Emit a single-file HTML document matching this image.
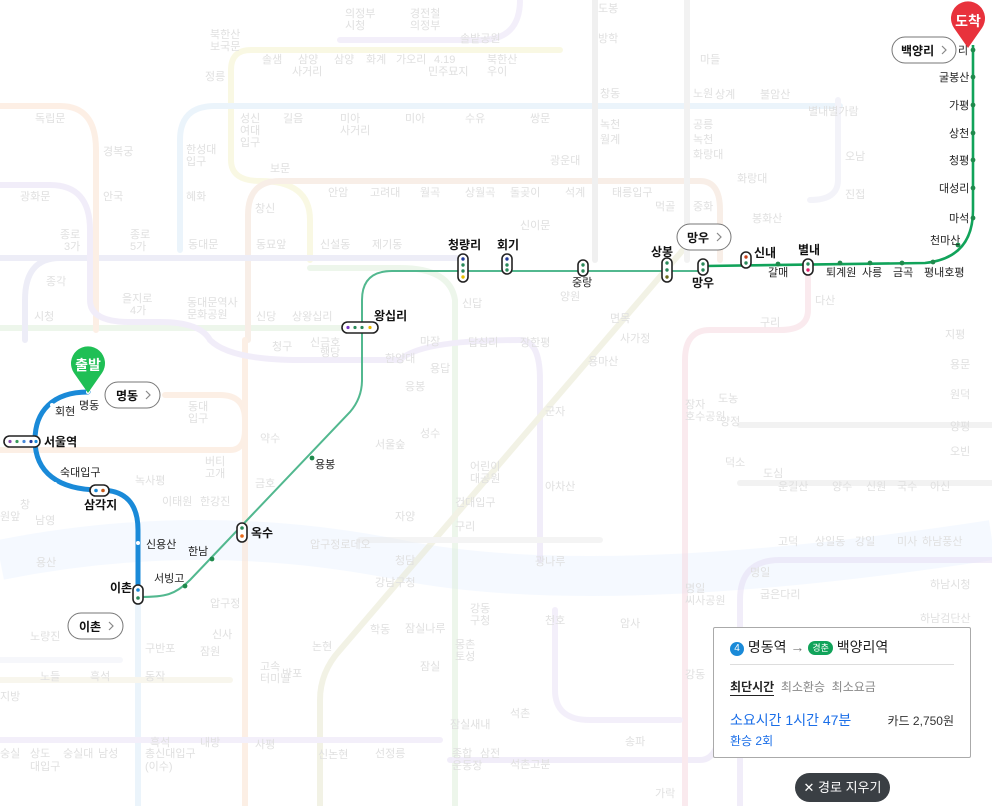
<!DOCTYPE html>
<html><head><meta charset="utf-8"><style>
html,body{margin:0;padding:0;background:#fff;}
body{width:992px;height:806px;overflow:hidden;position:relative;font-family:"Liberation Sans","Noto Sans CJK KR",sans-serif;}
svg text{font-family:"Liberation Sans","Noto Sans CJK KR",sans-serif;}
.bg{fill:#e0e0e0;font-size:11px;}
.lb{fill:#222;font-size:11px;}
.lbb{fill:#111;font-size:12px;font-weight:bold;}
</style></head><body>
<svg width="992" height="806" viewBox="0 0 992 806" xmlns="http://www.w3.org/2000/svg" style="position:absolute;left:0;top:0">
<g fill="none" stroke="#eef5ff" stroke-width="40" opacity="0.6"><path d="M0,560 Q200,520 400,560 T992,540"/></g>
<g fill="none" stroke-width="6" stroke-linecap="round" opacity="0.5">
 <path d="M231,110 L231,70 Q231,50 251,50 L560,50" stroke="#f4f3c8"/>
 <path d="M231,110 L231,160 Q231,181 260,181 Q310,181 310,220 L310,260" stroke="#f4f3c8"/>
 <path d="M180,250 L180,140 Q180,106 215,106 L840,106" stroke="#d8eaf8"/>
 <path d="M138,600 L138,806" stroke="#d8eaf8"/>
 <path d="M310,268 L400,268 Q450,268 455,300 L455,806" stroke="#dcefd8"/>
 <path d="M0,328 L350,328" stroke="#dcefd8"/>
 <path d="M248,340 L248,215 Q248,181 280,181 L700,181 Q720,181 720,210 L720,260" stroke="#f3dfd0"/>
 <path d="M0,258 L460,258" stroke="#dcdcf0"/>
 <path d="M25,340 L25,300 Q25,258 60,258" stroke="#dcdcf0"/>
 <path d="M0,106 L60,106 Q96,106 96,150 L96,330" stroke="#fbe0cc"/>
 <path d="M245,340 L245,806" stroke="#fbe0cc"/>
 <path d="M0,450 L230,450 Q245,450 245,430 L245,420 Q245,395 220,395 L165,395" stroke="#fbe0cc"/>
 <path d="M0,185 L50,185 Q90,185 90,230 L90,300 Q90,322 130,322 L160,322 Q200,322 210,340 Q230,360 300,360 L400,360 Q420,340 520,340 Q540,340 540,380 L540,560" stroke="#e5dcf4"/>
 <path d="M520,0 Q520,40 480,40 L340,40" stroke="#e8e0f6"/>
 <path d="M450,760 L700,760 Q720,760 720,720 L720,690" stroke="#e5dcf4"/>
 <path d="M740,806 L740,600 Q740,560 780,560 L992,560" stroke="#e5dcf4"/>
 <path d="M700,230 L340,650 Q320,672 320,700 L320,806" stroke="#e6e6cc"/>
 <path d="M808,275 L808,310 Q808,330 780,330 L710,330 Q685,330 685,360 L685,806" stroke="#f6d6de"/>
 <path d="M595,0 L595,260" stroke="#e3e3e3"/>
 <path d="M687,0 L687,260" stroke="#e7e7e7"/>
 <path d="M838,100 L838,180 Q838,200 810,200" stroke="#e8e8f4"/>
 <path d="M740,425 L992,425" stroke="#e6e6e6"/>
 <path d="M740,483 L992,483" stroke="#e6e6e6"/>
 <path d="M555,610 L555,690 Q555,720 590,720 L680,720" stroke="#e8e0f6"/>
 <path d="M0,660 L120,660" stroke="#eef0f8"/>
 <path d="M0,740 L440,740" stroke="#e8e0f6"/>
 <path d="M0,680 L230,680" stroke="#f2eedc"/>
 <path d="M360,540 L600,540" stroke="#eaeaea"/>
</g>
<g class="bg">
<text x="345" y="17">의정부</text><text x="345" y="29">시청</text><text x="410" y="17">경전철</text><text x="410" y="29">의정부</text>
<text x="210" y="38">북한산</text><text x="210" y="50">보국문</text><text x="460" y="42">솔밭공원</text>
<text x="262" y="63">솔샘</text><text x="298" y="63">삼양</text><text x="334" y="63">삼양</text><text x="366" y="63">화계</text><text x="396" y="63">가오리</text><text x="434" y="63">4.19</text><text x="292" y="75">사거리</text><text x="428" y="75">민주묘지</text><text x="487" y="63">북한산</text><text x="487" y="75">우이</text>
<text x="205" y="80">정릉</text><text x="598" y="42">방학</text><text x="598" y="12">도봉</text><text x="700" y="63">마들</text>
<text x="35" y="122">독립문</text><text x="103" y="155">경복궁</text><text x="20" y="200">광화문</text><text x="103" y="200">안국</text>
<text x="240" y="122">성신</text><text x="240" y="134">여대</text><text x="240" y="146">입구</text><text x="283" y="122">길음</text><text x="340" y="122">미아</text><text x="340" y="134">사거리</text><text x="405" y="122">미아</text><text x="465" y="122">수유</text><text x="530" y="122">쌍문</text>
<text x="186" y="153">한성대</text><text x="186" y="165">입구</text><text x="186" y="200">혜화</text><text x="270" y="172">보문</text><text x="255" y="212">창신</text>
<text x="328" y="196">안암</text><text x="370" y="196">고려대</text><text x="420" y="196">월곡</text><text x="465" y="196">상월곡</text><text x="510" y="196">돌곶이</text><text x="565" y="196">석계</text><text x="612" y="196">태릉입구</text>
<text x="60" y="238">종로</text><text x="64" y="250">3가</text><text x="130" y="238">종로</text><text x="130" y="250">5가</text><text x="188" y="248">동대문</text><text x="256" y="248">동묘앞</text><text x="320" y="248">신설동</text><text x="372" y="248">제기동</text><text x="520" y="229">신이문</text><text x="550" y="164">광운대</text>
<text x="46" y="285">종각</text><text x="122" y="302">을지로</text><text x="130" y="314">4가</text><text x="187" y="306">동대문역사</text><text x="187" y="318">문화공원</text><text x="256" y="320">신당</text><text x="292" y="320">상왕십리</text><text x="34" y="320">시청</text>
<text x="462" y="307">신답</text><text x="560" y="300">양원</text><text x="610" y="322">면목</text><text x="620" y="342">사가정</text><text x="468" y="346">답십리</text><text x="520" y="346">장한평</text><text x="420" y="345">마장</text><text x="385" y="362">한양대</text>
<text x="588" y="365">용마산</text><text x="760" y="326">구리</text><text x="815" y="304">다산</text><text x="945" y="338">지평</text><text x="950" y="368">용문</text><text x="950" y="398">원덕</text><text x="950" y="430">양평</text><text x="950" y="455">오빈</text>
<text x="272" y="350">청구</text><text x="310" y="346">신금호</text><text x="320" y="356">행당</text><text x="188" y="410">동대</text><text x="188" y="422">입구</text><text x="260" y="442">약수</text><text x="205" y="465">버티</text><text x="205" y="477">고개</text><text x="255" y="487">금호</text><text x="135" y="484">녹사평</text><text x="162" y="505">이태원</text><text x="200" y="505">한강진</text>
<text x="420" y="437">성수</text><text x="375" y="448">서울숲</text><text x="405" y="390">응봉</text><text x="430" y="372">용답</text><text x="545" y="415">군자</text><text x="470" y="470">어린이</text><text x="470" y="482">대공원</text><text x="545" y="490">아차산</text><text x="455" y="506">건대입구</text><text x="455" y="530">구리</text><text x="395" y="520">자양</text>
<text x="310" y="548">압구정로데오</text><text x="395" y="564">청담</text><text x="375" y="586">강남구청</text><text x="535" y="565">광나루</text><text x="210" y="607">압구정</text><text x="212" y="638">신사</text><text x="200" y="655">잠원</text><text x="312" y="650">논현</text><text x="370" y="633">학동</text><text x="405" y="632">잠실나루</text><text x="470" y="612">강동</text><text x="470" y="624">구청</text><text x="545" y="624">천호</text><text x="620" y="627">암사</text><text x="685" y="592">명일</text><text x="685" y="604">씨사공원</text>
<text x="20" y="508">창</text><text x="0" y="520">원앞</text><text x="35" y="524">남영</text><text x="36" y="566">용산</text><text x="30" y="640">노량진</text><text x="145" y="652">구반포</text><text x="145" y="680">동작</text><text x="260" y="670">고속</text><text x="260" y="682">터미널</text><text x="282" y="677">반포</text><text x="255" y="748">사평</text><text x="318" y="758">신논현</text><text x="375" y="757">선정릉</text><text x="420" y="670">잠실</text><text x="455" y="648">몽촌</text><text x="455" y="660">토성</text><text x="510" y="717">석촌</text><text x="450" y="728">잠실새내</text><text x="452" y="757">종합</text><text x="452" y="769">운동장</text><text x="480" y="757">삼전</text><text x="510" y="768">석촌고분</text><text x="625" y="745">송파</text><text x="655" y="797">가락</text><text x="685" y="678">강동</text>
<text x="150" y="746">흑석</text><text x="145" y="757">총신대입구</text><text x="145" y="770">(이수)</text><text x="200" y="746">내방</text><text x="40" y="680">노들</text><text x="90" y="680">흑석</text><text x="30" y="757">상도</text><text x="0" y="700">지방</text><text x="0" y="757">숭실</text><text x="30" y="770">대입구</text><text x="63" y="757">숭실대</text><text x="98" y="757">남성</text>
<text x="763" y="477">도심</text><text x="778" y="490">운길산</text><text x="832" y="490">양수</text><text x="866" y="490">신원</text><text x="897" y="490">국수</text><text x="930" y="490">아신</text><text x="725" y="466">덕소</text><text x="720" y="425">양정</text><text x="685" y="408">장자</text><text x="685" y="420">호수공원</text><text x="718" y="402">도농</text>
<text x="778" y="545">고덕</text><text x="815" y="545">상일동</text><text x="855" y="545">강일</text><text x="897" y="545">미사</text><text x="922" y="545">하남풍산</text><text x="750" y="576">명일</text><text x="760" y="598">굽은다리</text><text x="930" y="588">하남시청</text><text x="920" y="622">하남검단산</text>
<text x="715" y="98">상계</text><text x="760" y="98">불암산</text><text x="808" y="115">별내별가람</text><text x="845" y="160">오남</text><text x="845" y="198">진접</text><text x="693" y="128">공릉</text><text x="693" y="143">녹천</text><text x="693" y="158">화랑대</text><text x="737" y="182">화랑대</text><text x="752" y="222">봉화산</text><text x="600" y="128">녹천</text><text x="600" y="143">월계</text><text x="600" y="97">창동</text><text x="693" y="97">노원</text><text x="655" y="210">먹골</text><text x="693" y="210">중화</text>
</g>
<path d="M88,392 C52,392 35,412 35,440 C35,472 58,490 100,490 Q138,490 138,530 L138,595" fill="none" stroke="#1a8ad8" stroke-width="5" stroke-linecap="round"/>
<path d="M140,597 C165,597 175,595 190,580 L350,412 Q362,398 362,380 L362,300 Q362,271 392,271 L705,271" fill="none" stroke="#52b88f" stroke-width="2"/>
<path d="M705,266 L925,263 Q973,258 973,210 L973,45" fill="none" stroke="#11a35a" stroke-width="2.6"/>
<g fill="#fff"><circle cx="52" cy="405" r="2"/><circle cx="55" cy="484" r="2"/><circle cx="138" cy="543" r="2"/><circle cx="88" cy="392" r="2"/></g>
<g fill="#1f8a4c"><circle cx="185" cy="586" r="2.4"/><circle cx="212" cy="559" r="2.4"/><circle cx="312" cy="458" r="2.4"/><circle cx="778" cy="264" r="2.4"/><circle cx="840" cy="263" r="2.4"/><circle cx="870" cy="263" r="2.4"/><circle cx="902" cy="263" r="2.4"/><circle cx="933" cy="262" r="2.4"/><circle cx="958" cy="245" r="2.4"/><circle cx="973" cy="218" r="2.4"/><circle cx="973" cy="188" r="2.4"/><circle cx="973" cy="160" r="2.4"/><circle cx="973" cy="133" r="2.4"/><circle cx="973" cy="105" r="2.4"/><circle cx="973" cy="77" r="2.4"/><circle cx="973" cy="50" r="2.4"/></g>
<g stroke="#222" stroke-width="1.6" fill="#fff">
<rect x="4" y="436" width="36" height="11" rx="5.5"/>
<rect x="90" y="485" width="19" height="11" rx="5.5"/>
<rect x="133" y="585" width="10" height="19" rx="5"/>
<rect x="237" y="523" width="10" height="19" rx="5"/>
<rect x="342" y="322" width="36" height="11" rx="5.5"/>
<rect x="458" y="254" width="10" height="28" rx="5"/>
<rect x="502" y="254" width="10" height="20" rx="5"/>
<rect x="578" y="260" width="10" height="16" rx="5"/>
<rect x="662" y="258" width="10" height="24" rx="5"/>
<rect x="698" y="259" width="10" height="16" rx="5"/>
<rect x="741" y="252" width="10" height="16" rx="5"/>
<rect x="803" y="259" width="10" height="16" rx="5"/>
</g>
<g>
<circle cx="10" cy="441.5" r="1.6" fill="#8a4fb0"/><circle cx="17" cy="441.5" r="1.6" fill="#3a9a5a"/><circle cx="24" cy="441.5" r="1.6" fill="#4a8ad8"/><circle cx="31" cy="441.5" r="1.6" fill="#223a9a"/><circle cx="36" cy="441.5" r="1.6" fill="#1a8ad8"/>
<circle cx="96" cy="490.5" r="1.8" fill="#1a8ad8"/><circle cx="103" cy="490.5" r="1.8" fill="#c85a1a"/>
<circle cx="138" cy="590" r="1.8" fill="#1a8ad8"/><circle cx="138" cy="598" r="1.8" fill="#2a8a5a"/>
<circle cx="242" cy="528" r="1.8" fill="#2a8a5a"/><circle cx="242" cy="536" r="1.8" fill="#e86a1a"/>
<circle cx="348" cy="327.5" r="1.6" fill="#7a3ac8"/><circle cx="355" cy="327.5" r="1.6" fill="#2a8a5a"/><circle cx="362" cy="327.5" r="1.6" fill="#2a8a5a"/><circle cx="370" cy="327.5" r="1.6" fill="#e8b800"/>
<circle cx="463" cy="259" r="1.7" fill="#223a9a"/><circle cx="463" cy="265" r="1.7" fill="#2a8a5a"/><circle cx="463" cy="271" r="1.7" fill="#2a8a5a"/><circle cx="463" cy="277" r="1.7" fill="#e8c000"/>
<circle cx="507" cy="259" r="1.7" fill="#223a9a"/><circle cx="507" cy="265" r="1.7" fill="#2a8a5a"/><circle cx="507" cy="270" r="1.7" fill="#2a8a5a"/>
<circle cx="583" cy="265" r="1.7" fill="#2a8a5a"/><circle cx="583" cy="271" r="1.7" fill="#2a8a5a"/>
<circle cx="667" cy="263" r="1.7" fill="#2a8a5a"/><circle cx="667" cy="270" r="1.7" fill="#2a8a5a"/><circle cx="667" cy="277" r="1.7" fill="#6a6a1a"/>
<circle cx="703" cy="264" r="1.7" fill="#2a8a5a"/><circle cx="703" cy="270" r="1.7" fill="#2a8a5a"/>
<circle cx="746" cy="257" r="1.7" fill="#c8401a"/><circle cx="746" cy="263" r="1.7" fill="#2a8a5a"/>
<circle cx="808" cy="264" r="1.7" fill="#2a8a5a"/><circle cx="808" cy="270" r="1.7" fill="#e0206a"/>
</g>
<g class="lb">
<text x="79" y="409">명동</text><text x="55" y="415">회현</text><text x="60" y="476">숙대입구</text><text x="146" y="548">신용산</text><text x="188" y="555">한남</text><text x="154" y="582">서빙고</text><text x="315" y="468">용봉</text>
<text x="572" y="286">중랑</text><text x="768" y="276">갈매</text><text x="826" y="276">퇴계원</text><text x="862" y="276">사릉</text><text x="893" y="276">금곡</text><text x="924" y="276">평내호평</text><text x="930" y="244">천마산</text>
<text x="949" y="222">마석</text><text x="939" y="192">대성리</text><text x="949" y="164">청평</text><text x="949" y="137">상천</text><text x="949" y="109">가평</text><text x="939" y="81">굴봉산</text><text x="958" y="54">리</text>
</g>
<g class="lbb">
<text x="44" y="446">서울역</text><text x="84" y="509">삼각지</text><text x="110" y="592">이촌</text><text x="251" y="537">옥수</text><text x="374" y="320">왕십리</text>
<text x="448" y="249">청량리</text><text x="497" y="249">회기</text><text x="651" y="256">상봉</text><text x="692" y="287">망우</text><text x="754" y="257">신내</text><text x="798" y="254">별내</text>
</g>
<g fill="#fff" stroke="#777" stroke-width="1">
<rect x="105" y="382" width="55" height="26" rx="13"/><rect x="68" y="613" width="55" height="26" rx="13"/><rect x="677" y="224" width="54" height="26" rx="13"/><rect x="892" y="37" width="64" height="26" rx="13"/>
</g>
<g font-size="12" font-weight="bold" fill="#111">
<text x="116" y="400">명동</text><text x="79" y="631">이촌</text><text x="687" y="242">망우</text><text x="901" y="55">백양리</text>
</g>
<g fill="none" stroke="#888" stroke-width="1.2"><path d="M146,391 l4,4 l-4,4"/><path d="M109,622 l4,4 l-4,4"/><path d="M717,233 l4,4 l-4,4"/><path d="M942,46 l4,4 l-4,4"/></g>
<path d="M88,393 L74,373 A17,17 0 1 1 102,373 Z" fill="#1fbf55"/>
<text x="88" y="370" font-size="14" font-weight="bold" fill="#fff" text-anchor="middle">출발</text>
<path d="M968,48 L954,28 A17,17 0 1 1 982,28 Z" fill="#e8323c"/>
<text x="968" y="26" font-size="14" font-weight="bold" fill="#fff" text-anchor="middle">도착</text>
</svg>
<div style="position:absolute;left:713px;top:627px;width:258px;height:131px;background:#fff;border:1px solid #aaa;border-radius:2px;box-sizing:border-box;">
 <div style="position:absolute;left:16px;top:10px;font-size:14px;color:#222;white-space:nowrap;line-height:18px;">
  <span style="display:inline-block;width:14px;height:14px;border-radius:7px;background:#1a8ad8;color:#fff;font-size:10px;text-align:center;line-height:14px;vertical-align:1px;">4</span> 명동역 <span style="color:#777">→</span> <span style="display:inline-block;padding:0 4px;height:14px;border-radius:7px;background:#11a35a;color:#fff;font-size:9px;line-height:14px;vertical-align:1px;">경춘</span> 백양리역
 </div>
 <div style="position:absolute;left:16px;right:16px;top:36px;border-top:1px solid #ddd;"></div>
 <div style="position:absolute;left:16px;top:50px;font-size:12px;color:#888;white-space:nowrap;"><span style="color:#222;font-weight:bold;border-bottom:1px solid #222;padding-bottom:1px;">최단시간</span>&nbsp; 최소환승 &nbsp;최소요금</div>
 <div style="position:absolute;left:16px;top:82px;font-size:14px;color:#1a6ee8;white-space:nowrap;">소요시간 1시간 47분</div>
 <div style="position:absolute;right:16px;top:84px;font-size:12px;color:#333;white-space:nowrap;">카드 2,750원</div>
 <div style="position:absolute;left:16px;top:104px;font-size:12px;color:#1a6ee8;white-space:nowrap;">환승 2회</div>
</div>
<div style="position:absolute;left:795px;top:773px;width:95px;height:29px;background:#3a3f44;border-radius:15px;color:#fff;font-size:13px;line-height:29px;text-align:center;white-space:nowrap;">✕ 경로 지우기</div>
</body></html>
